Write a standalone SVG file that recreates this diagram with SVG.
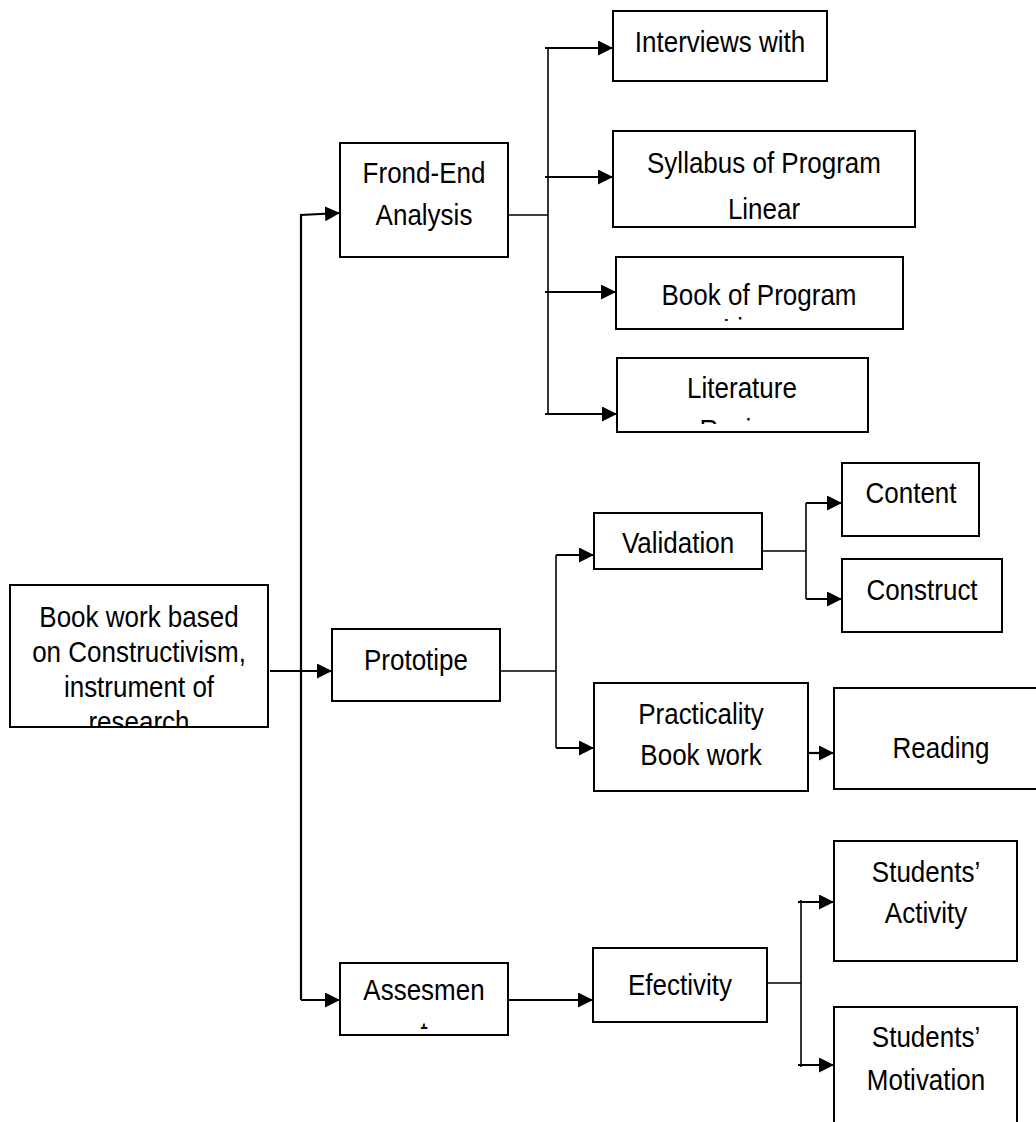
<svg xmlns="http://www.w3.org/2000/svg" width="1036" height="1122" viewBox="0 0 1036 1122">
<style>
.box{fill:#fff;stroke:#000;stroke-width:2}
.t{font-family:"Liberation Sans",Arial,sans-serif;font-size:26px;text-anchor:middle;fill:#000}
.ln{fill:none;stroke:#000;stroke-width:1.6}
.ar{fill:none;stroke:#000;stroke-width:2.2;marker-end:url(#ah)}
</style>
<defs>
<marker id="ah" markerWidth="15" markerHeight="15" refX="15" refY="7.5" orient="auto" markerUnits="userSpaceOnUse">
<path d="M0,0 L15,7.5 L0,15 z" fill="#000"/>
</marker>
<clipPath id="cMain"><rect x="11" y="586" width="256" height="140"/></clipPath>
<clipPath id="cBook"><rect x="617" y="258" width="285" height="63"/></clipPath>
<clipPath id="cLit"><rect x="618" y="359" width="249" height="65"/></clipPath>
<clipPath id="cAss"><rect x="341" y="964" width="166" height="65"/></clipPath>
</defs>
<rect width="1036" height="1122" fill="#fff"/>

<g id="connectors">
<path class="ar" d="M270,671 H332"/>
<path class="ar" d="M301,1000 V215 L340,213"/>
<path class="ar" d="M301,1000 H340"/>
<path class="ln" d="M508,215 H548"/>
<path class="ln" d="M548,47 V414"/>
<path class="ar" d="M545,48 H613"/>
<path class="ar" d="M545,177 H613"/>
<path class="ar" d="M545,292 H616"/>
<path class="ar" d="M545,414 H617"/>
<path class="ln" d="M500,671 H556"/>
<path class="ln" d="M556,555 V748"/>
<path class="ar" d="M556,555 H594"/>
<path class="ar" d="M556,748 H594"/>
<path class="ln" d="M758,551 H806"/>
<path class="ln" d="M806,503 V599"/>
<path class="ar" d="M806,503 H842"/>
<path class="ar" d="M806,599 H842"/>
<path class="ar" d="M805,753 H834"/>
<path class="ar" d="M508,1000 H593"/>
<path class="ln" d="M767,983 H801"/>
<path class="ln" d="M801,900 V1067"/>
<path class="ar" d="M798,902 H834"/>
<path class="ar" d="M798,1065 H834"/>
</g>

<g id="main">
<rect class="box" x="10" y="585" width="258" height="142"/>
<g clip-path="url(#cMain)">
<text class="t" transform="translate(139,627) scale(1,1.14)">Book work based</text>
<text class="t" transform="translate(139,662) scale(1,1.14)">on Constructivism,</text>
<text class="t" transform="translate(139,697) scale(1,1.14)">instrument of</text>
<text class="t" transform="translate(139,732) scale(1,1.14)">research</text>
</g>
</g>

<g id="frontend">
<rect class="box" x="340" y="143" width="168" height="114"/>
<text class="t" transform="translate(424,183) scale(1,1.14)">Frond-End</text>
<text class="t" transform="translate(424,225) scale(1,1.14)">Analysis</text>
</g>

<g id="prototipe">
<rect class="box" x="332" y="629" width="168" height="72"/>
<text class="t" transform="translate(416,670) scale(1,1.14)">Prototipe</text>
</g>

<g id="assesment">
<rect class="box" x="340" y="963" width="168" height="72"/>
<g clip-path="url(#cAss)">
<text class="t" transform="translate(424,1000) scale(1,1.14)">Assesmen</text>
<text class="t" transform="translate(424,1043) scale(1,1.14)">t</text>
</g>
</g>

<g id="interviews">
<rect class="box" x="613" y="11" width="214" height="70"/>
<text class="t" transform="translate(720,52) scale(1,1.14)">Interviews with</text>
</g>

<g id="syllabus">
<rect class="box" x="613" y="131" width="302" height="96"/>
<text class="t" transform="translate(764,173) scale(1,1.14)">Syllabus of Program</text>
<text class="t" transform="translate(764,219) scale(1,1.14)">Linear</text>
</g>

<g id="book">
<rect class="box" x="616" y="257" width="287" height="72"/>
<g clip-path="url(#cBook)">
<text class="t" transform="translate(759,305) scale(1,1.14)">Book of Program</text>
<text class="t" transform="translate(759,339) scale(1,1.14)">Linear</text>
</g>
</g>

<g id="literature">
<rect class="box" x="617" y="358" width="251" height="74"/>
<g clip-path="url(#cLit)">
<text class="t" transform="translate(742,398) scale(1,1.14)">Literature</text>
<text class="t" transform="translate(742,440) scale(1,1.14)">Review</text>
</g>
</g>

<g id="validation">
<rect class="box" x="594" y="513" width="168" height="56"/>
<text class="t" transform="translate(678,553) scale(1,1.14)">Validation</text>
</g>

<g id="content">
<rect class="box" x="842" y="463" width="137" height="73"/>
<text class="t" transform="translate(911,503) scale(1,1.14)">Content</text>
</g>

<g id="construct">
<rect class="box" x="842" y="559" width="160" height="73"/>
<text class="t" transform="translate(922,600) scale(1,1.14)">Construct</text>
</g>

<g id="practicality">
<rect class="box" x="594" y="683" width="214" height="108"/>
<text class="t" transform="translate(701,724) scale(1,1.14)">Practicality</text>
<text class="t" transform="translate(701,765) scale(1,1.14)">Book work</text>
</g>

<g id="reading">
<rect class="box" x="834" y="688" width="214" height="101"/>
<text class="t" transform="translate(941,758) scale(1,1.14)">Reading</text>
</g>

<g id="efectivity">
<rect class="box" x="593" y="948" width="174" height="74"/>
<text class="t" transform="translate(680,995) scale(1,1.14)">Efectivity</text>
</g>

<g id="activity">
<rect class="box" x="834" y="841" width="183" height="120"/>
<text class="t" transform="translate(926,882) scale(1,1.14)">Students’</text>
<text class="t" transform="translate(926,923) scale(1,1.14)">Activity</text>
</g>

<g id="motivation">
<rect class="box" x="834" y="1007" width="183" height="130"/>
<text class="t" transform="translate(926,1047) scale(1,1.14)">Students’</text>
<text class="t" transform="translate(926,1090) scale(1,1.14)">Motivation</text>
</g>
</svg>
